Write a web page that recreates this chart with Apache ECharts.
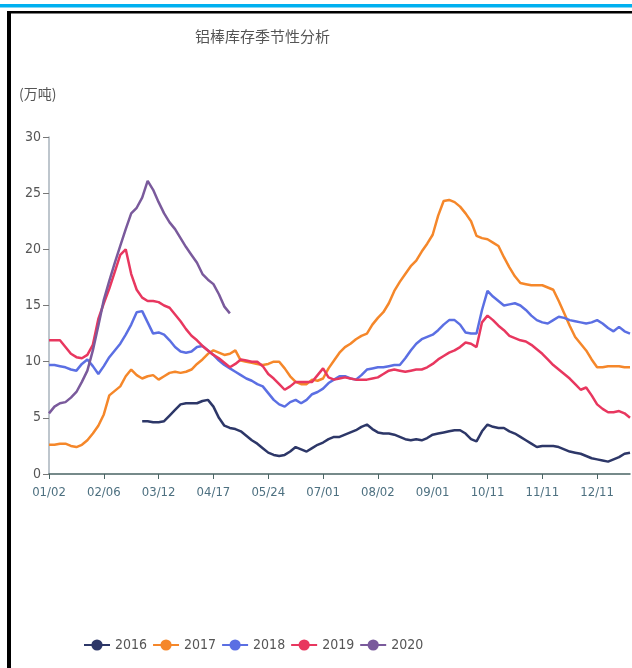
<!DOCTYPE html>
<html>
<head>
<meta charset="utf-8">
<script src="https://cdn.jsdelivr.net/npm/echarts/dist/echarts.min.js"></script>
<style>
html,body{margin:0;padding:0;background:#fff;}
#chart{width:632px;height:668px;}
</style>
</head>
<body>
<div id="chart"></div>
<script>
var titleText = '铝棒库存季节性分析';
var unitText = '(万吨)';
var categories = [
 '01/02','01/06','01/09','01/13','01/16','01/20','01/23','01/27','01/30','02/03',
 '02/06','02/10','02/13','02/17','02/20','02/24','02/27','03/02','03/05','03/09',
 '03/12','03/16','03/19','03/23','03/26','03/30','04/02','04/06','04/09','04/13',
 '04/17','04/20','04/23','04/27','04/30','05/07','05/11','05/14','05/18','05/21',
 '05/24','05/28','06/01','06/04','06/08','06/11','06/15','06/18','06/22','06/28',
 '07/01','07/04','07/07','07/11','07/14','07/18','07/21','07/25','07/28','07/30',
 '08/02','08/05','08/08','08/12','08/15','08/19','08/22','08/25','08/27','08/29',
 '09/01','09/05','09/08','09/12','09/15','09/19','09/22','09/26','09/29','10/08',
 '10/11','10/14','10/17','10/21','10/24','10/28','10/31','11/04','11/07','11/09',
 '11/11','11/14','11/18','11/21','11/25','11/28','12/02','12/05','12/07','12/09',
 '12/11','12/14','12/17','12/21','12/24','12/28','12/31'
];
var seriesNames = ['2016','2017','2018','2019','2020'];
var yTicks = {min: 0, max: 30, interval: 5};

var s2016 = [
 null,null,null,null,null,null,null,null,null,null,
 null,null,null,null,null,null,null,4.7,4.7,4.6,
 4.6,4.7,5.2,5.7,6.2,6.3,6.3,6.3,6.5,6.6,
 6.0,5.0,4.3,4.1,4.0,3.8,3.4,3.0,2.7,2.3,
 1.9,1.7,1.6,1.7,2.0,2.4,2.2,2.0,2.3,2.6,
 2.8,3.1,3.3,3.3,3.5,3.7,3.9,4.2,4.4,4.0,
 3.7,3.6,3.6,3.5,3.3,3.1,3.0,3.1,3.0,3.2,
 3.5,3.6,3.7,3.8,3.9,3.9,3.6,3.1,2.9,3.8,
 4.4,4.2,4.1,4.1,3.8,3.6,3.3,3.0,2.7,2.4,
 2.5,2.5,2.5,2.4,2.2,2.0,1.9,1.8,1.6,1.4,
 1.3,1.2,1.1,1.3,1.5,1.8,1.9
];
var s2017 = [
 2.6,2.6,2.7,2.7,2.5,2.4,2.6,3.0,3.6,4.3,
 5.3,7.0,7.4,7.8,8.7,9.3,8.8,8.5,8.7,8.8,
 8.4,8.7,9.0,9.1,9.0,9.1,9.3,9.8,10.2,10.7,
 11.0,10.8,10.6,10.7,11.0,10.1,10.0,9.9,9.8,9.7,
 9.8,10.0,10.0,9.4,8.7,8.2,8.0,8.0,8.4,8.3,
 8.5,9.4,10.1,10.8,11.3,11.6,12.0,12.3,12.5,13.3,
 13.9,14.4,15.2,16.3,17.1,17.8,18.5,19.0,19.8,20.5,
 21.3,23.0,24.3,24.4,24.2,23.8,23.2,22.5,21.2,21.0,
 20.9,20.6,20.3,19.3,18.4,17.6,17.0,16.9,16.8,16.8,
 16.8,16.6,16.4,15.4,14.3,13.2,12.2,11.6,11.0,10.2,
 9.5,9.5,9.6,9.6,9.6,9.5,9.5
];
var s2018 = [
 9.7,9.7,9.6,9.5,9.3,9.2,9.8,10.2,9.6,8.9,
 9.6,10.4,11.0,11.6,12.4,13.3,14.4,14.5,13.5,12.5,
 12.6,12.4,11.9,11.3,10.9,10.8,10.9,11.3,11.4,11.0,
 10.6,10.1,9.7,9.4,9.1,8.8,8.5,8.3,8.0,7.8,
 7.2,6.6,6.2,6.0,6.4,6.6,6.3,6.6,7.1,7.3,
 7.6,8.1,8.4,8.7,8.7,8.5,8.4,8.8,9.3,9.4,
 9.5,9.5,9.6,9.7,9.7,10.3,11.0,11.6,12.0,12.2,
 12.4,12.8,13.3,13.7,13.7,13.3,12.6,12.5,12.5,14.6,
 16.3,15.8,15.4,15.0,15.1,15.2,15.0,14.6,14.1,13.7,
 13.5,13.4,13.7,14.0,13.9,13.7,13.6,13.5,13.4,13.5,
 13.7,13.4,13.0,12.7,13.1,12.7,12.5
];
var s2019 = [
 11.9,11.9,11.9,11.3,10.7,10.4,10.3,10.6,11.5,13.8,
 15.2,16.5,18.0,19.5,20.0,17.8,16.4,15.7,15.4,15.4,
 15.3,15.0,14.8,14.2,13.6,12.9,12.3,11.9,11.4,11.0,
 10.6,10.3,9.9,9.5,9.8,10.2,10.1,10.0,10.0,9.6,
 8.9,8.5,8.0,7.5,7.8,8.2,8.2,8.2,8.2,8.8,
 9.4,8.6,8.4,8.5,8.6,8.5,8.4,8.4,8.4,8.5,
 8.6,8.9,9.2,9.3,9.2,9.1,9.2,9.3,9.3,9.5,
 9.8,10.2,10.5,10.8,11.0,11.3,11.7,11.6,11.3,13.5,
 14.1,13.7,13.2,12.8,12.3,12.1,11.9,11.8,11.5,11.1,
 10.7,10.2,9.7,9.3,8.9,8.5,8.0,7.5,7.7,7.0,
 6.2,5.8,5.5,5.5,5.6,5.4,5.0
];
var s2020 = [
 5.4,6.0,6.3,6.4,6.8,7.3,8.2,9.2,11.0,13.2,
 15.5,17.2,18.8,20.3,21.8,23.2,23.7,24.6,26.1,25.3,
 24.2,23.2,22.4,21.8,21.0,20.2,19.5,18.8,17.8,17.3,
 16.9,16.0,14.9,14.3
];
var seriesData = [s2016, s2017, s2018, s2019, s2020];
var colors = ['#2d3768', '#f5872a', '#5b6fe3', '#e8375f', '#7a5a9c'];

var chart = echarts.init(document.getElementById('chart'), null, {renderer: 'canvas'});
var series = seriesNames.map(function (n, i) {
  return {
    name: n,
    type: 'line',
    data: seriesData[i],
    symbol: 'circle',
    symbolSize: 8,
    showSymbol: false,
    connectNulls: false,
    lineStyle: {width: 2.5, color: colors[i]},
    itemStyle: {color: colors[i]}
  };
});
var option = {
  animation: false,
  backgroundColor: '#ffffff',
  title: {
    text: titleText,
    left: 190,
    top: 24,
    textStyle: {fontFamily: 'Noto Sans CJK SC', fontSize: 15, fontWeight: 'normal', color: '#555'}
  },
  legend: {
    data: seriesNames,
    left: 78,
    top: 633,
    itemWidth: 26,
    itemHeight: 14,
    itemGap: 5,
    textStyle: {fontFamily: 'DejaVu Sans Condensed', fontSize: 14, color: '#555'}
  },
  grid: {left: 49, right: 2, top: 137, bottom: 194, containLabel: false},
  xAxis: {
    type: 'category',
    data: categories,
    boundaryGap: false,
    axisLine: {lineStyle: {color: '#4a6464', width: 1.5}},
    axisTick: {show: true, interval: 9, length: 5, lineStyle: {color: '#4a6464'}},
    axisLabel: {interval: 9, margin: 12, fontFamily: 'DejaVu Sans Condensed', fontSize: 13, color: '#4d7080'},
    splitLine: {show: false}
  },
  yAxis: {
    type: 'value',
    min: yTicks.min,
    max: yTicks.max,
    interval: yTicks.interval,
    name: unitText,
    nameLocation: 'end',
    nameGap: 36,
    nameTextStyle: {fontFamily: 'Noto Sans CJK SC', fontSize: 14, color: '#555', align: 'left', padding: [0, 0, 0, -30]},
    axisLine: {show: true, lineStyle: {color: '#a9b3bd', width: 1.5}},
    axisTick: {show: true, length: 6, lineStyle: {color: '#777'}},
    axisLabel: {margin: 8, fontFamily: 'DejaVu Sans Condensed', fontSize: 14, color: '#555'},
    splitLine: {show: false}
  },
  graphic: [
    {type: 'rect', shape: {x: 0, y: 4, width: 632, height: 3.5}, style: {fill: '#00b0f0'}, silent: true},
    {type: 'rect', shape: {x: 8, y: 11, width: 624, height: 2.5}, style: {fill: '#000'}, silent: true},
    {type: 'rect', shape: {x: 7, y: 11, width: 4, height: 657}, style: {fill: '#000'}, silent: true}
  ],
  series: series
};
chart.setOption(option);
</script>
</body>
</html>
